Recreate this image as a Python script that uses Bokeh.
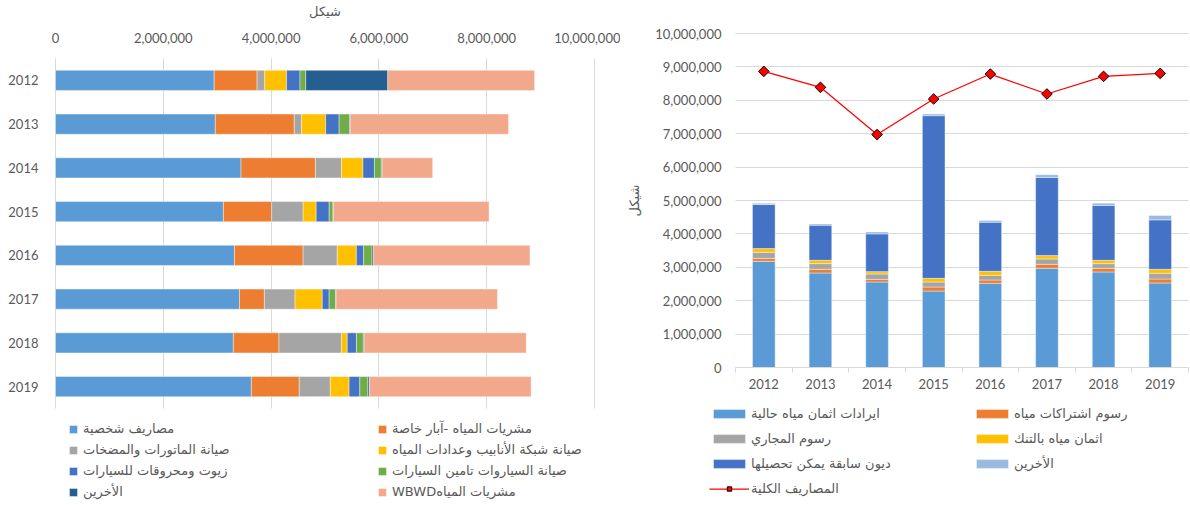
import math
from bokeh.plotting import figure
from bokeh.models import (ColumnDataSource, Range1d, FixedTicker, NumeralTickFormatter,
                          Legend, LegendItem)
from bokeh.layouts import row
from bokeh.embed import file_html
from bokeh.resources import INLINE

years = [2012, 2013, 2014, 2015, 2016, 2017, 2018, 2019]

# ---- Left chart: expenses (NIS) ----
exp_labels = ["مصاريف شخصية", "مشريات المياه -آبار خاصة", "صيانة الماتورات والمضخات",
              "صيانة شبكة الأنابيب وعدادات المياه", "زيوت ومحروقات للسيارات",
              "صيانة السياروات تامين السيارات", "الأخرين", "WBWDمشريات المياه"]
exp_personal = [2944000, 2965000, 3442000, 3115000, 3321000, 3413000, 3300000, 3634000]
exp_wells = [796000, 1465000, 1380000, 896000, 1273000, 462000, 846000, 889000]
exp_motors = [142000, 135000, 484000, 583000, 633000, 569000, 1159000, 576000]
exp_pipes = [405000, 448000, 398000, 242000, 356000, 505000, 107000, 348000]
exp_fuel = [249000, 249000, 213000, 242000, 135000, 128000, 171000, 199000]
exp_cars = [107000, 192000, 128000, 71000, 156000, 121000, 128000, 149000]
exp_others = [1522000, 14000, 14000, 7000, 28000, 7000, 14000, 28000]
exp_wbwd = [2724000, 2937000, 939000, 2887000, 2901000, 2994000, 3008000, 3001000]
exp_ticks = [0, 2000000, 4000000, 6000000, 8000000, 10000000]

# ---- Right chart: revenues (NIS) and total expenses ----
rev_labels = ["ايرادات اثمان مياه حالية", "رسوم اشتراكات مياه", "رسوم المجاري",
              "اثمان مياه بالتنك", "ديون سابقة يمكن تحصيلها", "الأخرين"]
rev_current = [3180000, 2830000, 2560000, 2290000, 2520000, 2970000, 2860000, 2530000]
rev_subs = [90000, 110000, 80000, 120000, 100000, 120000, 110000, 120000]
rev_sewage = [180000, 170000, 160000, 150000, 140000, 160000, 140000, 170000]
rev_tanker = [110000, 100000, 70000, 110000, 120000, 100000, 100000, 120000]
rev_debts = [1320000, 1050000, 1130000, 4870000, 1470000, 2340000, 1640000, 1480000]
rev_others = [40000, 40000, 60000, 50000, 50000, 80000, 70000, 130000]
total_label = "المصاريف الكلية"
total_expenses = [8866000, 8388000, 6975000, 8040000, 8786000, 8189000, 8716000, 8806000]
rev_ticks = [0, 1000000, 2000000, 3000000, 4000000, 5000000, 6000000, 7000000,
             8000000, 9000000, 10000000]

unit = "شيكل"

NUM_FONT = "Lato"
AR_FONT = "DejaVu Sans"
TXT = "#595959"
GRID = "#D9D9D9"

exp_colors = ["#5B9BD5", "#ED7D31", "#A5A5A5", "#FFC000", "#4472C4", "#70AD47", "#255E91", "#F2A88B"]
rev_colors = ["#5B9BD5", "#ED7D31", "#A5A5A5", "#FFC000", "#4472C4", "#99B9E0"]


def span_range(v0, v1, p0, p1, size):
    """Range whose values v0, v1 land at pixels p0, p1 of a frame `size` px long
    (pixels measured from the range start side)."""
    k = (v1 - v0) / (p1 - p0)
    return Range1d(start=v0 - p0 * k, end=v1 + (size - p1) * k)


def bounded_grid(p, grid, ticks, dim, lo, hi):
    grid.ticker = FixedTicker(ticks=ticks)
    grid.grid_line_color = GRID
    try:
        grid.cross_bounds = (lo, hi)
    except AttributeError:
        grid.visible = False
        n = len(ticks)
        if dim == 0:
            p.segment(x0=ticks, x1=ticks, y0=[lo] * n, y1=[hi] * n,
                      line_color=GRID, line_width=1, level="underlay")
        else:
            p.segment(y0=ticks, y1=ticks, x0=[lo] * n, x1=[hi] * n,
                      line_color=GRID, line_width=1, level="underlay")


def make_legend(items, loc, gw, gh, lh, standoff):
    return Legend(items=items, location=loc, orientation="vertical",
                  glyph_width=gw, glyph_height=gh, label_height=lh,
                  spacing=0, label_standoff=standoff, padding=0, margin=0,
                  border_line_color=None, background_fill_alpha=0,
                  label_text_font=AR_FONT, label_text_font_size="13px",
                  label_text_color=TXT)


H = 505

# ================= LEFT =================
W1 = 620
# frame covers the whole figure; data area x: 55..594, rows 58..408 (px from top)
xr1 = span_range(0, 10000000, 55, 594, W1)
yr1 = span_range(2019.5, 2011.5, H - 408, H - 58, H)   # measured from bottom
p1 = figure(width=W1, height=H, output_backend="svg", toolbar_location=None,
            title=None, x_range=xr1, y_range=yr1, x_axis_location="above",
            min_border=0, min_border_left=0, min_border_right=0,
            min_border_top=0, min_border_bottom=0)
p1.outline_line_color = None
src1 = ColumnDataSource(dict(year=years, personal=exp_personal, wells=exp_wells,
                             motors=exp_motors, pipes=exp_pipes, fuel=exp_fuel,
                             cars=exp_cars, others=exp_others, wbwd=exp_wbwd))
keys1 = ["personal", "wells", "motors", "pipes", "fuel", "cars", "others", "wbwd"]

p1.ygrid.grid_line_color = None
bounded_grid(p1, p1.xgrid[0], exp_ticks, 0, 2011.5, 2019.5)

r1 = p1.hbar_stack(keys1, y="year", height=0.46, color=exp_colors, source=src1,
                   line_color="white", line_width=0.8, line_alpha=0.5)

ax = p1.xaxis[0]
ax.fixed_location = 2011.5
ax.bounds = (exp_ticks[0], exp_ticks[-1])
ax.ticker = FixedTicker(ticks=exp_ticks)
ax.formatter = NumeralTickFormatter(format="0,0")
ax.axis_line_color = None
ax.major_tick_line_color = None
ax.minor_tick_line_color = None
ax.major_label_text_color = TXT
ax.major_label_text_font = NUM_FONT
ax.major_label_text_font_size = "13px"
ax.major_label_standoff = 10
ax.axis_label = unit
ax.axis_label_text_font = AR_FONT
ax.axis_label_text_font_style = "normal"
ax.axis_label_text_font_size = "13px"
ax.axis_label_text_color = TXT
ax.axis_label_standoff = 11

ay = p1.yaxis[0]
ay.fixed_location = 0
ay.ticker = FixedTicker(ticks=years)
ay.axis_line_color = None
ay.major_tick_line_color = None
ay.minor_tick_line_color = None
ay.major_label_text_color = TXT
ay.major_label_text_font = NUM_FONT
ay.major_label_text_font_size = "13px"
ay.major_label_standoff = 11

it1 = [LegendItem(label=exp_labels[i], renderers=[r1[i]]) for i in range(8)]
p1.add_layout(make_legend([it1[0], it1[2], it1[4], it1[6]], (68, 3), 10, 10, 21, 5))
p1.add_layout(make_legend([it1[1], it1[3], it1[5], it1[7]], (377, 3), 10, 10, 21, 5))

# ================= RIGHT =================
W2 = 570
xr2 = span_range(2011.5, 2019.5, 115, 568, W2)
yr2 = span_range(0, 10000000, H - 367, H - 33, H)
p2 = figure(width=W2, height=H, output_backend="svg", toolbar_location=None,
            title=None, x_range=xr2, y_range=yr2,
            min_border=0, min_border_left=0, min_border_right=0,
            min_border_top=0, min_border_bottom=0)
p2.outline_line_color = None
src2 = ColumnDataSource(dict(year=years, current=rev_current, subs=rev_subs,
                             sewage=rev_sewage, tanker=rev_tanker, debts=rev_debts,
                             others=rev_others, total=total_expenses))
keys2 = ["current", "subs", "sewage", "tanker", "debts", "others"]

p2.xgrid.grid_line_color = None
bounded_grid(p2, p2.ygrid[0], rev_ticks, 1, 2011.5, 2019.5)

r2 = p2.vbar_stack(keys2, x="year", width=0.4, color=rev_colors, source=src2,
                   line_color="white", line_width=0.8, line_alpha=0.5)
ln = p2.line("year", "total", source=src2, line_color="#FF0000", line_width=1.25)
mk = p2.scatter("year", "total", source=src2, marker="square", angle=math.pi / 4,
                size=7.5, fill_color="#FF0000", line_color="black", line_width=1)

bx = p2.xaxis[0]
bx.fixed_location = 0
bx.bounds = (2011.5, 2019.5)
bx.ticker = FixedTicker(ticks=years, minor_ticks=[y - 0.5 for y in years] + [years[-1] + 0.5])
bx.axis_line_color = GRID
bx.major_tick_line_color = None
bx.minor_tick_line_color = GRID
bx.minor_tick_out = 5
bx.minor_tick_in = 0
bx.major_label_text_color = TXT
bx.major_label_text_font = NUM_FONT
bx.major_label_text_font_size = "13px"
bx.major_label_standoff = 5

by = p2.yaxis[0]
by.fixed_location = 2011.5
by.bounds = (rev_ticks[0], rev_ticks[-1])
by.ticker = FixedTicker(ticks=rev_ticks)
by.formatter = NumeralTickFormatter(format="0,0")
by.axis_line_color = None
by.major_tick_line_color = None
by.minor_tick_line_color = None
by.major_label_text_color = TXT
by.major_label_text_font = NUM_FONT
by.major_label_text_font_size = "13px"
by.major_label_standoff = 8
by.axis_label = unit
by.axis_label_text_font = AR_FONT
by.axis_label_text_font_style = "normal"
by.axis_label_text_font_size = "13px"
by.axis_label_text_color = TXT
by.axis_label_standoff = 10

it2 = [LegendItem(label=rev_labels[i], renderers=[r2[i]]) for i in range(6)]
it_line = LegendItem(label=total_label, renderers=[ln, mk])
p2.add_layout(make_legend([it2[0], it2[2], it2[4], it_line], (89, 4), 40, 11, 25, 2))
p2.add_layout(make_legend([it2[1], it2[3], it2[5]], (352, 29), 40, 11, 25, 2))

layout = row(p1, p2, spacing=0)
open("out.html", "w").write(file_html(layout, INLINE))
